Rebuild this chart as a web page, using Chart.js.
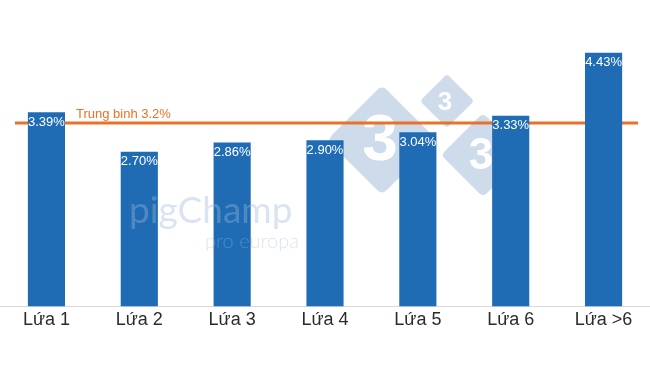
<!DOCTYPE html>
<html>
<head>
<meta charset="utf-8">
<script src="https://cdn.jsdelivr.net/npm/chart.js@4.4.0/dist/chart.umd.min.js"></script>
<style>
  html, body { margin: 0; padding: 0; background: #ffffff; }
  #wrap { width: 650px; height: 366px; position: relative; }
</style>
</head>
<body>
<div id="wrap"><canvas id="c" width="650" height="366"></canvas></div>
<script>
const categories = ["Lứa 1", "Lứa 2", "Lứa 3", "Lứa 4", "Lứa 5", "Lứa 6", "Lứa >6"];
const values = [3.39, 2.70, 2.86, 2.90, 3.04, 3.33, 4.43];
const averageValue = 3.2;
const averageLabel = "Trung binh 3.2%";

const FONT = "'Liberation Sans', Arial, sans-serif";

const backPlugin = {
  id: 'backLayer',
  beforeDatasetsDraw(chart) {
    const ctx = chart.ctx;
    ctx.save();
    const diamonds = [
      { cx: 382, cy: 140, r: 55, fs: 64 },
      { cx: 447, cy: 101, r: 27, fs: 26 },
      { cx: 483, cy: 155, r: 42, fs: 44 }
    ];
    diamonds.forEach(d => {
      ctx.save();
      ctx.translate(d.cx, d.cy);
      ctx.rotate(Math.PI / 4);
      const s = d.r / Math.SQRT2;
      const rr = s * 0.18;
      ctx.fillStyle = '#cddbea';
      ctx.beginPath();
      ctx.moveTo(-s + rr, -s);
      ctx.lineTo(s - rr, -s);
      ctx.quadraticCurveTo(s, -s, s, -s + rr);
      ctx.lineTo(s, s - rr);
      ctx.quadraticCurveTo(s, s, s - rr, s);
      ctx.lineTo(-s + rr, s);
      ctx.quadraticCurveTo(-s, s, -s, s - rr);
      ctx.lineTo(-s, -s + rr);
      ctx.quadraticCurveTo(-s, -s, -s + rr, -s);
      ctx.closePath();
      ctx.fill();
      ctx.restore();
      ctx.fillStyle = '#ffffff';
      ctx.font = 'bold ' + d.fs + 'px ' + FONT;
      ctx.textAlign = 'center';
      ctx.textBaseline = 'middle';
      ctx.fillText('3', d.cx - 2, d.cy + 2);
    });
    // average line (behind bars)
    const y = chart.scales.y.getPixelForValue(averageValue);
    ctx.strokeStyle = '#ea7125';
    ctx.lineWidth = 3;
    ctx.beginPath();
    ctx.moveTo(15, y);
    ctx.lineTo(638, y);
    ctx.stroke();
    ctx.fillStyle = '#ea7125';
    ctx.font = '13px ' + FONT;
    ctx.textAlign = 'left';
    ctx.textBaseline = 'alphabetic';
    ctx.fillText(averageLabel, 76, y - 5);
    ctx.restore();
  }
};

const frontPlugin = {
  id: 'frontLayer',
  afterDatasetsDraw(chart) {
    const ctx = chart.ctx;
    const meta = chart.getDatasetMeta(0);
    ctx.save();
    // translucent watermark text over bars
    ctx.fillStyle = 'rgba(159,185,215,0.38)';
    ctx.font = '37px Lato, ' + FONT;
    ctx.textAlign = 'left';
    ctx.textBaseline = 'alphabetic';
    ctx.fillText('pigChamp', 129, 223);
    ctx.font = '300 20px Lato, ' + FONT;
    ctx.fillText('pro europa', 205, 248);
    // value labels
    ctx.fillStyle = '#ffffff';
    ctx.font = '13px ' + FONT;
    ctx.textAlign = 'center';
    ctx.textBaseline = 'middle';
    meta.data.forEach((bar, i) => {
      ctx.fillText(values[i].toFixed(2) + '%', bar.x, bar.y + 10);
    });
    ctx.restore();
  }
};

new Chart(document.getElementById('c'), {
  type: 'bar',
  data: {
    labels: categories,
    datasets: [{
      data: values,
      backgroundColor: '#1f6cb4',
      borderWidth: 0,
      categoryPercentage: 1.0,
      barPercentage: 0.4
    }]
  },
  options: {
    responsive: false,
    animation: false,
    devicePixelRatio: 1,
    layout: { padding: { top: 20, bottom: 32, left: 0, right: 0 } },
    plugins: { legend: { display: false }, tooltip: { enabled: false } },
    scales: {
      y: { display: false, min: 0, max: 5 },
      x: {
        grid: { display: false, drawTicks: false },
        border: { display: true, color: '#d9d9d9', width: 1 },
        ticks: { color: '#2b2b2b', font: { size: 18, family: FONT }, padding: 3 }
      }
    }
  },
  plugins: [backPlugin, frontPlugin]
});
</script>
</body>
</html>
